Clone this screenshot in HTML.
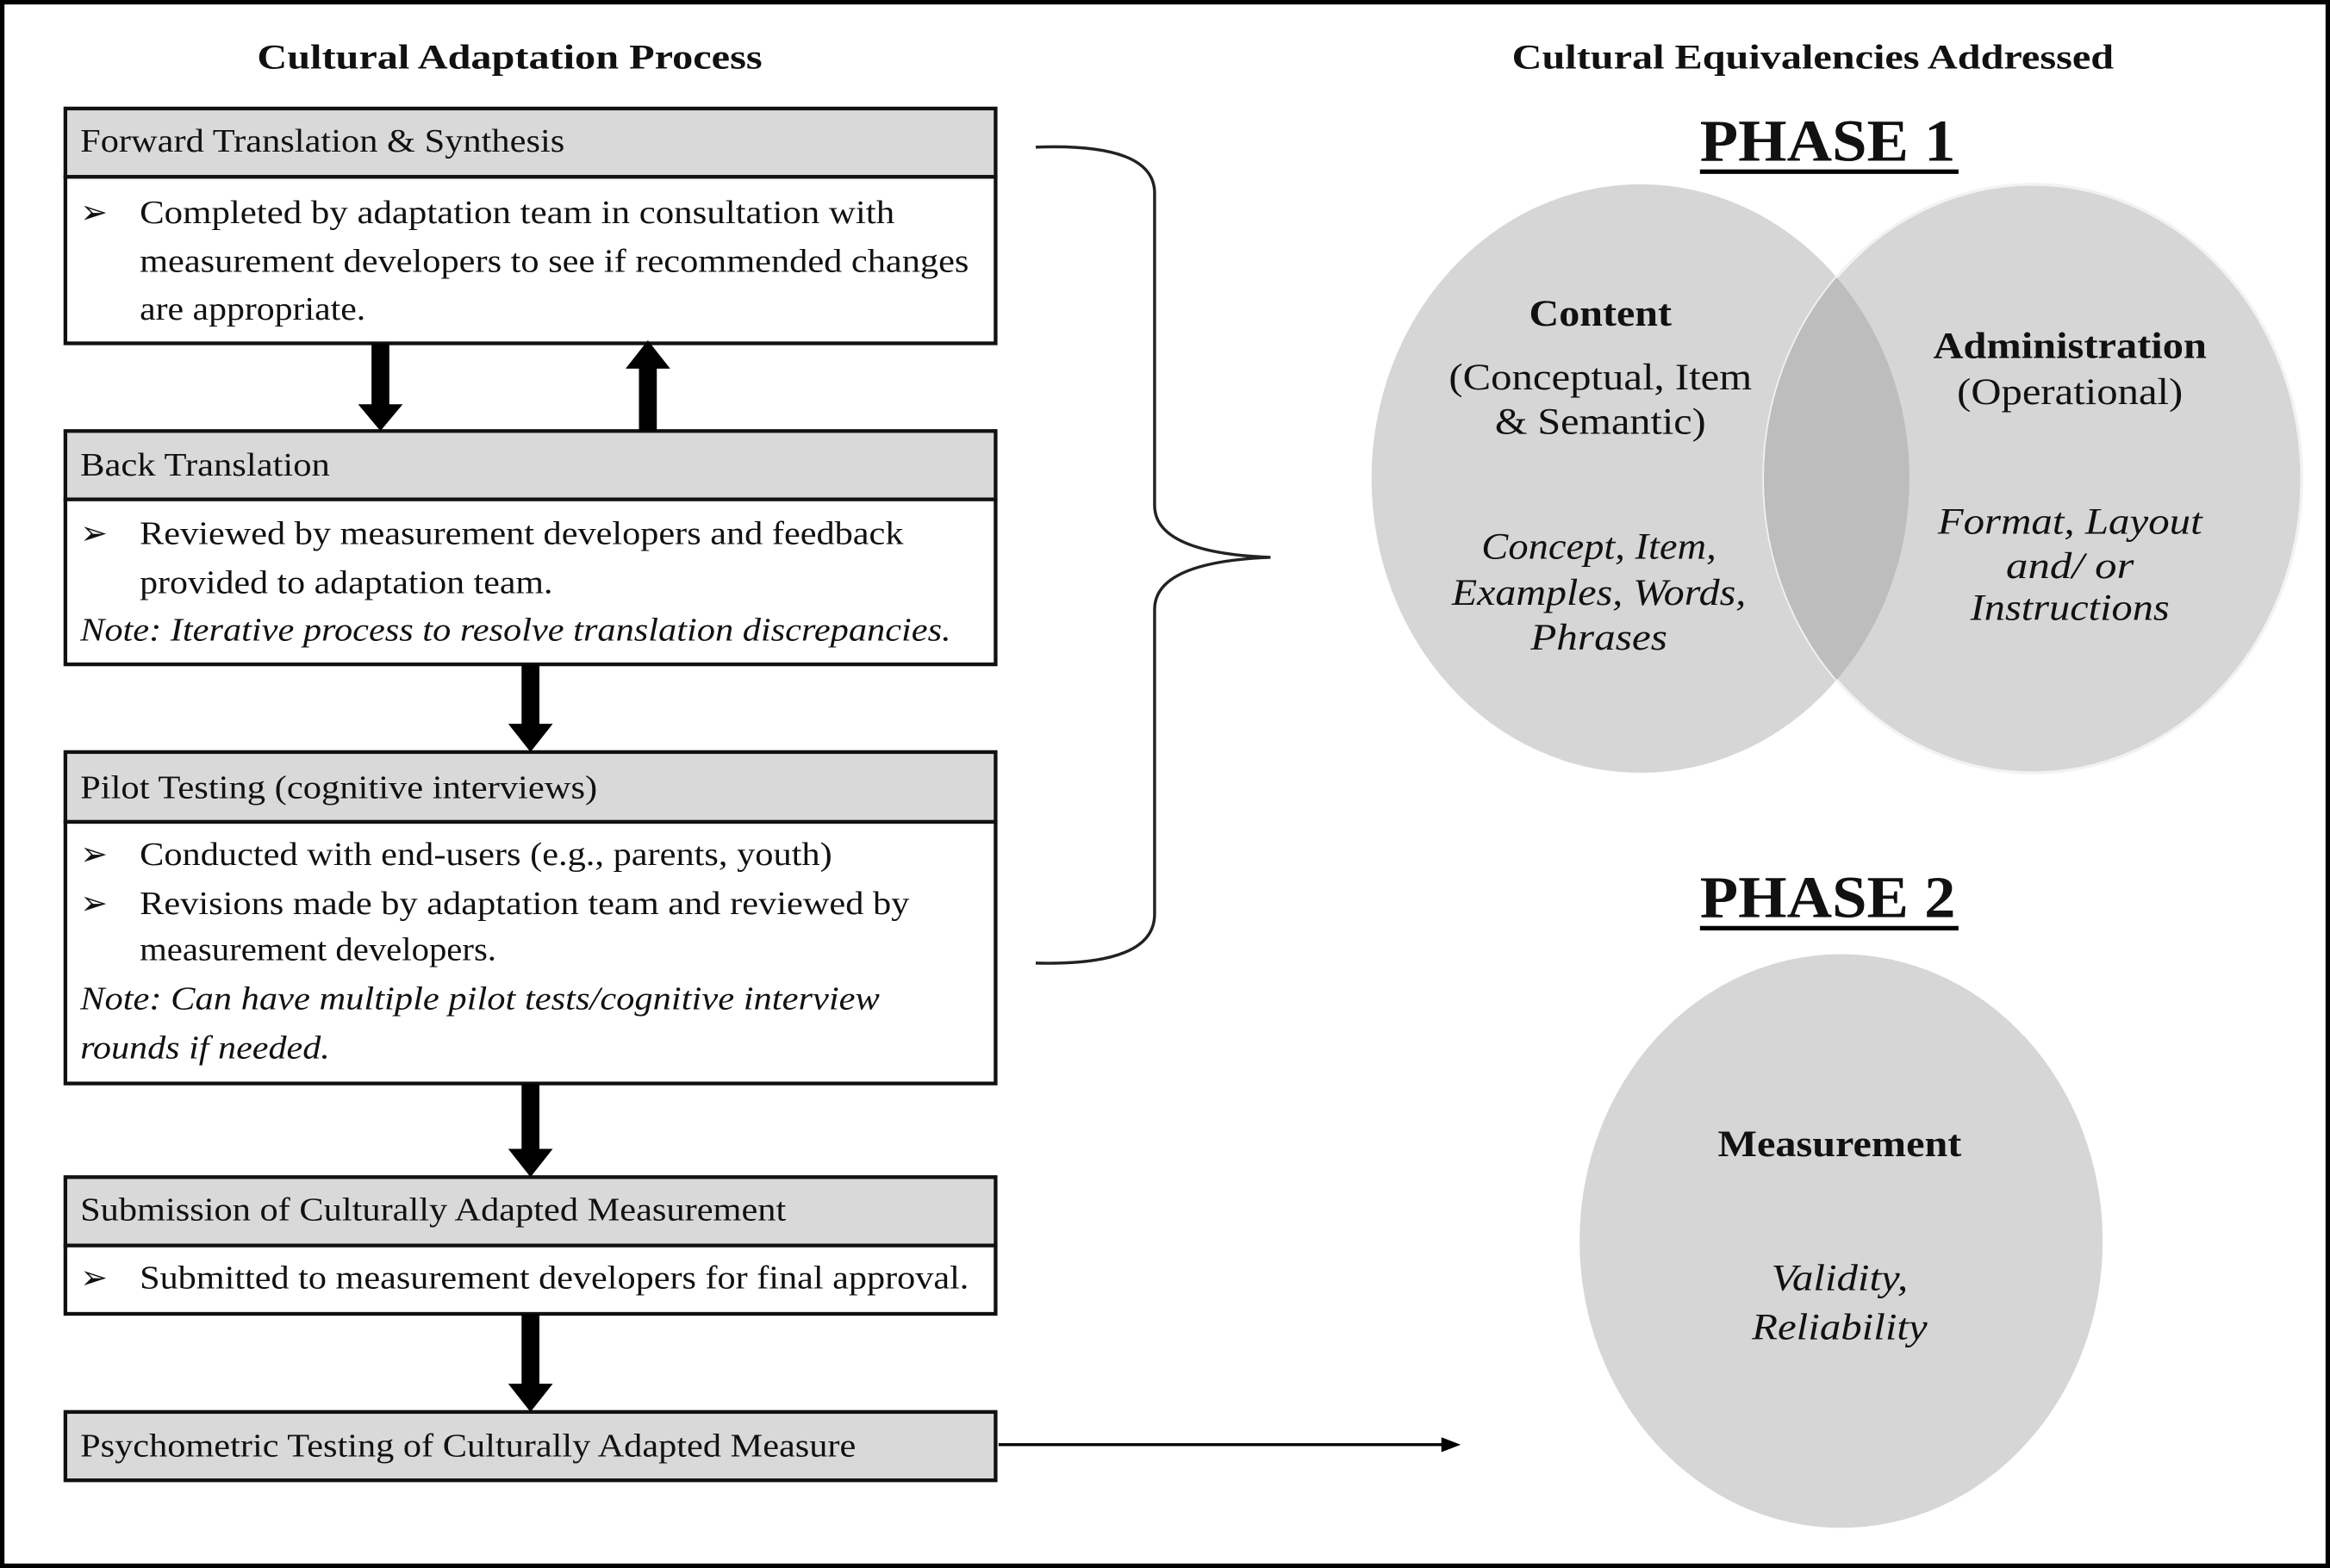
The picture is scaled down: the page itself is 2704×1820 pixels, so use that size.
<!DOCTYPE html>
<html><head><meta charset="utf-8"><style>
html,body{margin:0;padding:0;background:#fff}
svg{display:block}
text{font-family:"Liberation Serif",serif;fill:#111}
</style></head><body>
<svg width="2704" height="1820" viewBox="0 0 1568 1055" preserveAspectRatio="none" xmlns="http://www.w3.org/2000/svg">
<rect x="1.5" y="1.5" width="1565" height="1052" fill="#fff" stroke="#000" stroke-width="3"/>
<g font-size="23" font-weight="bold" text-anchor="middle">
<text x="343" y="46" textLength="340" lengthAdjust="spacingAndGlyphs">Cultural Adaptation Process</text>
<text x="1220" y="46" textLength="405" lengthAdjust="spacingAndGlyphs">Cultural Equivalencies Addressed</text>
</g>
<g font-size="40" font-weight="bold" text-anchor="middle">
<text x="1230" y="108" textLength="172" lengthAdjust="spacingAndGlyphs">PHASE 1</text>
<text x="1230" y="617" textLength="172" lengthAdjust="spacingAndGlyphs">PHASE 2</text>
</g>
<rect x="1144" y="114" width="174" height="3" fill="#000"/>
<rect x="1144" y="623" width="174" height="3" fill="#000"/>

<g stroke="#111" stroke-width="2.5">
<rect x="44" y="73" width="626" height="46" fill="#d9d9d9"/>
<rect x="44" y="119" width="626" height="112" fill="#fff"/>
<rect x="44" y="290" width="626" height="46" fill="#d9d9d9"/>
<rect x="44" y="336" width="626" height="111" fill="#fff"/>
<rect x="44" y="506" width="626" height="47" fill="#d9d9d9"/>
<rect x="44" y="553" width="626" height="176" fill="#fff"/>
<rect x="44" y="792" width="626" height="46" fill="#d9d9d9"/>
<rect x="44" y="838" width="626" height="46" fill="#fff"/>
<rect x="44" y="950" width="626" height="46" fill="#d9d9d9"/>
</g>

<g fill="#000">
<rect x="250" y="231" width="12" height="44"/><polygon points="241,272 271,272 256,290"/>
<rect x="430" y="246" width="12" height="44"/><polygon points="421,248 451,248 436,229"/>
<rect x="351" y="447" width="12" height="42"/><polygon points="342,487 372,487 357,506"/>
<rect x="351" y="729" width="12" height="46"/><polygon points="342,773 372,773 357,792"/>
<rect x="351" y="884" width="12" height="49"/><polygon points="342,931 372,931 357,950"/>
</g>
<line x1="672" y1="972" x2="972" y2="972" stroke="#000" stroke-width="2"/>
<polygon points="970,967 983,972 970,977" fill="#000"/>
<path d="M697,99 Q777,96 777,130 L777,340 Q777,372 855,375 Q777,378 777,410 L777,615 Q777,650 697,648" fill="none" stroke="#222" stroke-width="2"/>

<g font-size="22">
<text x="54" y="102" textLength="326" lengthAdjust="spacingAndGlyphs">Forward Translation &amp; Synthesis</text>
<text x="54" y="150">➢</text>
<text x="94" y="150" textLength="508" lengthAdjust="spacingAndGlyphs">Completed by  adaptation team in consultation with</text>
<text x="94" y="183" textLength="558" lengthAdjust="spacingAndGlyphs">measurement developers to see if recommended changes</text>
<text x="94" y="215" textLength="152" lengthAdjust="spacingAndGlyphs">are appropriate.</text>

<text x="54" y="320" textLength="168" lengthAdjust="spacingAndGlyphs">Back Translation</text>
<text x="54" y="366">➢</text>
<text x="94" y="366" textLength="514" lengthAdjust="spacingAndGlyphs">Reviewed by measurement developers and feedback</text>
<text x="94" y="399" textLength="278" lengthAdjust="spacingAndGlyphs">provided to adaptation team.</text>
<text x="54" y="431" font-style="italic" textLength="586" lengthAdjust="spacingAndGlyphs">Note: Iterative process to resolve translation discrepancies.</text>

<text x="54" y="537" textLength="348" lengthAdjust="spacingAndGlyphs">Pilot Testing (cognitive interviews)</text>
<text x="54" y="582">➢</text>
<text x="94" y="582" textLength="466" lengthAdjust="spacingAndGlyphs">Conducted with end-users (e.g., parents, youth)</text>
<text x="54" y="615">➢</text>
<text x="94" y="615" textLength="518" lengthAdjust="spacingAndGlyphs">Revisions made by adaptation team and reviewed by</text>
<text x="94" y="646" textLength="240" lengthAdjust="spacingAndGlyphs">measurement developers.</text>
<text x="54" y="679" font-style="italic" textLength="538" lengthAdjust="spacingAndGlyphs">Note: Can have multiple pilot tests/cognitive interview</text>
<text x="54" y="712" font-style="italic" textLength="168" lengthAdjust="spacingAndGlyphs">rounds if needed.</text>

<text x="54" y="821" textLength="475" lengthAdjust="spacingAndGlyphs">Submission of Culturally Adapted Measurement</text>
<text x="54" y="867">➢</text>
<text x="94" y="867" textLength="558" lengthAdjust="spacingAndGlyphs">Submitted to measurement developers for final approval.</text>

<text x="54" y="980" textLength="522" lengthAdjust="spacingAndGlyphs">Psychometric Testing of Culturally Adapted Measure</text>
</g>

<defs><clipPath id="cl"><ellipse cx="1104" cy="322" rx="181" ry="198"/></clipPath></defs>
<ellipse cx="1104" cy="322" rx="181" ry="198" fill="#d6d6d6"/>
<ellipse cx="1368" cy="322" rx="181" ry="198" fill="#d6d6d6" stroke="#f2f2f2" stroke-width="2"/>
<ellipse cx="1368" cy="322" rx="181" ry="198" fill="#bdbdbd" clip-path="url(#cl)"/>
<ellipse cx="1239" cy="835" rx="176" ry="193" fill="#d6d6d6"/>

<g font-size="25" text-anchor="middle">
<text x="1077" y="219" font-weight="bold" textLength="96" lengthAdjust="spacingAndGlyphs">Content</text>
<text x="1077" y="262" textLength="204" lengthAdjust="spacingAndGlyphs">(Conceptual, Item</text>
<text x="1077" y="292" textLength="142" lengthAdjust="spacingAndGlyphs">&amp; Semantic)</text>
<g font-style="italic"><text x="1076" y="376" textLength="158" lengthAdjust="spacingAndGlyphs">Concept, Item,</text>
<text x="1076" y="407" textLength="198" lengthAdjust="spacingAndGlyphs">Examples, Words,</text>
<text x="1076" y="437" textLength="92" lengthAdjust="spacingAndGlyphs">Phrases</text></g>
<text x="1393" y="241" font-weight="bold" textLength="184" lengthAdjust="spacingAndGlyphs">Administration</text>
<text x="1393" y="272" textLength="152" lengthAdjust="spacingAndGlyphs">(Operational)</text>
<g font-style="italic"><text x="1393" y="359" textLength="178" lengthAdjust="spacingAndGlyphs">Format, Layout</text>
<text x="1393" y="389" textLength="86" lengthAdjust="spacingAndGlyphs">and/ or</text>
<text x="1393" y="417" textLength="134" lengthAdjust="spacingAndGlyphs">Instructions</text></g>
<text x="1238" y="778" font-weight="bold" textLength="164" lengthAdjust="spacingAndGlyphs">Measurement</text>
<g font-style="italic"><text x="1238" y="868" textLength="92" lengthAdjust="spacingAndGlyphs">Validity,</text>
<text x="1238" y="901" textLength="118" lengthAdjust="spacingAndGlyphs">Reliability</text></g>
</g>
</svg>
</body></html>
